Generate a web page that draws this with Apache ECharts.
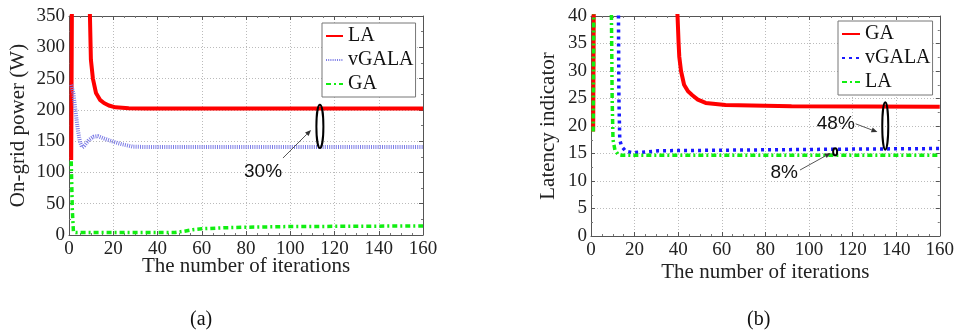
<!DOCTYPE html>
<html>
<head>
<meta charset="utf-8">
<script src="https://cdn.jsdelivr.net/npm/echarts@6/dist/echarts.min.js"></script>
<style>
  html, body { margin: 0; padding: 0; background: #fff; }
  #chart { width: 957px; height: 333px; }
</style>
</head>
<body>
<div id="chart"></div>
<script>
// (a) on-grid power vs iterations
var laAX = [1, 2, 5, 8, 9.4, 9.9, 10.8, 12.2, 14, 15.8, 18, 21, 27, 35, 60, 100, 160];
var laAY = [120, 900, 800, 500, 360, 280, 250, 227, 216, 211, 207, 204, 202.5, 202, 202, 202, 202];
var vgalaAX = [1, 2, 3, 4, 5, 6, 7, 9, 11, 13, 16, 20, 24, 29, 40, 80, 160];
var vgalaAY = [240, 226, 196, 168, 148, 140, 143, 152, 157, 158, 154, 149, 145, 141, 140.5, 140.5, 140.5];
var gaAX = [1, 1.5, 2, 3, 48, 52, 56, 60, 70, 80, 100, 130, 160];
var gaAY = [118, 40, 5, 4, 4, 6, 8.5, 10, 11.5, 12.5, 13.5, 14, 14.5];

// (b) latency indicator vs iterations
var gaBX = [1, 1.5, 20, 39, 39.7, 40.2, 40.5, 41.3, 42.7, 44.5, 46.5, 49, 52.6, 61.7, 92, 160];
var gaBY = [19, 60, 60, 45, 40, 35, 32.6, 30, 27.5, 26.3, 25.6, 24.8, 24.2, 23.8, 23.6, 23.5];
var vgalaBX = [1, 12, 12.6, 12.8, 13.2, 14, 16, 19, 26, 31, 60, 120, 160];
var vgalaBY = [70, 55, 40, 25, 17.5, 16.3, 15.4, 15.15, 15.3, 15.5, 15.6, 15.8, 15.9];
var laBX = [1, 1.5, 8, 9.3, 9.5, 9.7, 10.1, 11, 12.5, 14, 40, 160];
var laBY = [19, 60, 55, 42, 35, 25, 17.5, 15.6, 14.8, 14.7, 14.7, 14.7];

var xTicks = [0, 160, 20];
var yTicksA = [0, 350, 50];
var yTicksB = [0, 40, 5];

var serif = "'Liberation Serif', 'Times New Roman', serif";
var sans = "'Liberation Sans', Arial, sans-serif";

function pairs(xs, ys) {
  return xs.map(function (x, i) { return [x, ys[i]]; });
}

function xAxis(grid, top, gap) {
  return {
    gridIndex: grid, type: 'value', position: top ? 'top' : 'bottom',
    min: xTicks[0], max: xTicks[1], interval: xTicks[2],
    axisLine: { onZero: false, lineStyle: { color: '#555' } },
    axisTick: { inside: true, length: 4, lineStyle: { color: '#555' } },
    minorTick: { show: true, splitNumber: 4, length: 2, lineStyle: { color: '#777' } },
    axisLabel: { show: !top, fontFamily: serif, fontSize: 19, color: '#222', margin: 5 },
    splitLine: { show: !top, lineStyle: { type: [1, 2], color: '#bbb' } },
    name: top ? '' : 'The number of iterations',
    nameLocation: 'middle', nameGap: gap, nameMoveOverlap: false,
    nameTextStyle: { fontFamily: serif, fontSize: 21, color: '#222' }
  };
}

function yAxis(grid, ticks, right, name, gap) {
  return {
    gridIndex: grid, type: 'value', position: right ? 'right' : 'left',
    min: ticks[0], max: ticks[1], interval: ticks[2],
    axisLine: { onZero: false, lineStyle: { color: '#555' } },
    axisTick: { inside: true, length: 4, lineStyle: { color: '#555' } },
    minorTick: { show: true, splitNumber: 2, length: 2, lineStyle: { color: '#777' } },
    axisLabel: { show: !right, fontFamily: serif, fontSize: 19, color: '#222', margin: 4 },
    splitLine: { show: !right, lineStyle: { type: [1, 2], color: '#bbb' } },
    name: right ? '' : name,
    nameLocation: 'middle', nameGap: gap,
    nameTextStyle: { fontFamily: serif, fontSize: 21, color: '#222' }
  };
}

function line(name, xi, xs, ys, color, width, dash) {
  return {
    name: name, type: 'line', xAxisIndex: xi, yAxisIndex: xi,
    data: pairs(xs, ys), symbol: 'none', clip: true,
    lineStyle: { color: color, width: width, type: dash },
    itemStyle: { color: color }
  };
}

function legend(names, left, top, iconW) {
  return {
    data: names, orient: 'vertical', left: left, top: top,
    itemWidth: iconW, itemHeight: 14, itemGap: 4,
    padding: [3, 2, 3, 3],
    backgroundColor: '#fff', borderColor: '#777', borderWidth: 1,
    selectedMode: false,
    itemStyle: { opacity: 0 },
    formatter: function (n) { return n.split(':')[1]; },
    textStyle: { fontFamily: serif, fontSize: 20, color: '#111' }
  };
}

var chart = echarts.init(document.getElementById('chart'));
chart.setOption({
  animation: false,
  textStyle: { fontFamily: serif },
  grid: [
    { left: 69, top: 16, width: 354, height: 219 },
    { left: 591, top: 16, width: 352, height: 220 }
  ],
  xAxis: [xAxis(0, false, 21), xAxis(0, true), xAxis(1, false, 26), xAxis(1, true)],
  yAxis: [
    yAxis(0, yTicksA, false, 'On-grid power (W)', 40), yAxis(0, yTicksA, true),
    yAxis(1, yTicksB, false, 'Latency indicator', 32), yAxis(1, yTicksB, true)
  ],
  legend: [
    legend(['a:LA', 'a:vGALA', 'a:GA'], 322, 23, 17),
    legend(['b:GA', 'b:vGALA', 'b:LA'], 838, 21, 18)
  ],
  series: [
    line('a:LA', 0, laAX, laAY, '#ff0000', 4, 'solid'),
    line('a:vGALA', 0, vgalaAX, vgalaAY, '#7c7ce6', 4, [1, 1.2]),
    line('a:GA', 0, gaAX, gaAY, '#11ee11', 3.5, [5, 3, 2, 3]),
    line('b:GA', 2, gaBX, gaBY, '#ff0000', 4, 'solid'),
    line('b:vGALA', 2, vgalaBX, vgalaBY, '#1a1aff', 3.5, [3, 4]),
    line('b:LA', 2, laBX, laBY, '#11ee11', 3.5, [5, 3, 2, 3])
  ]
});

// annotations placed in data coordinates
function px(i, pt) { return chart.convertToPixel({ xAxisIndex: i, yAxisIndex: i }, pt); }

function ellipse(i, x, yTop, yBot, rx) {
  var a = px(i, [x, yTop]), b = px(i, [x, yBot]);
  return {
    type: 'ellipse', z: 10,
    shape: { cx: a[0], cy: (a[1] + b[1]) / 2, rx: rx, ry: (b[1] - a[1]) / 2 },
    style: { fill: 'none', stroke: '#000', lineWidth: 2 }
  };
}

function arrow(i, from, to) {
  var t = px(i, from), h = px(i, to);
  var dx = h[0] - t[0], dy = h[1] - t[1], L = Math.sqrt(dx * dx + dy * dy);
  var ux = dx / L, uy = dy / L, len = 6, w = 2.5;
  var b = [h[0] - ux * len, h[1] - uy * len];
  return [
    { type: 'line', z: 10, shape: { x1: t[0], y1: t[1], x2: b[0], y2: b[1] },
      style: { stroke: '#555', lineWidth: 1 } },
    { type: 'polygon', z: 10,
      shape: { points: [h, [b[0] - uy * w, b[1] + ux * w], [b[0] + uy * w, b[1] - ux * w]] },
      style: { fill: '#333' } }
  ];
}

function label(i, pt, text) {
  var p = px(i, pt);
  return {
    type: 'text', z: 10, x: p[0], y: p[1],
    style: { text: text, fontFamily: sans, fontSize: 19, fill: '#111', align: 'center', verticalAlign: 'middle' }
  };
}

var g = [
  ellipse(0, 113.4, 208, 139, 3.5),
  label(0, [87.7, 100.7], '30%'),
  ellipse(2, 135, 24.3, 15.7, 3),
  label(2, [112.3, 20.4], '48%'),
  ellipse(2, 112, 15.95, 14.65, 2),
  label(2, [88.6, 11.45], '8%'),
  { type: 'text', left: 190, top: 310, style: { text: '(a)', fontFamily: serif, fontSize: 20, fill: '#111' } },
  { type: 'text', left: 747, top: 310, style: { text: '(b)', fontFamily: serif, fontSize: 20, fill: '#111' } }
];
g = g.concat(arrow(0, [96.7, 123], [109.4, 167.8]));
g = g.concat(arrow(2, [121.4, 20.4], [131.4, 18.9]));
g = g.concat(arrow(2, [95.9, 12.0], [110, 15.1]));
chart.setOption({ graphic: g });
</script>
</body>
</html>
